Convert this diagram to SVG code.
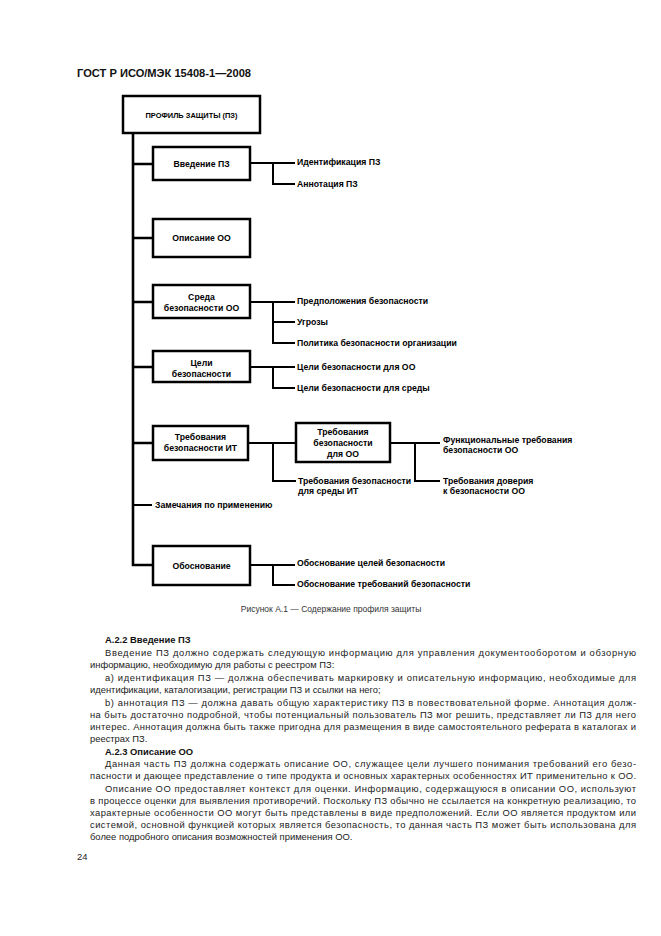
<svg xmlns="http://www.w3.org/2000/svg" width="661" height="936" viewBox="0 0 661 936">
<style>
.bg{fill:#fff}
.box{fill:#fff;stroke:#000;stroke-width:2.5}
.n{font-family:"Liberation Sans",Arial,sans-serif;font-size:8.7px;font-weight:bold;fill:#000}
.r{font-size:8px}
.c{text-anchor:middle}
.ln{fill:none;stroke:#000;stroke-width:2}
.tr{fill:none;stroke:#000;stroke-width:2.6}
.hd{font-family:"Liberation Sans",Arial,sans-serif;font-size:11px;font-weight:bold;fill:#111}
.cap{font-family:"Liberation Sans",Arial,sans-serif;font-size:8.5px;fill:#333;text-anchor:middle}
.t{font-family:"Liberation Sans",Arial,sans-serif;font-size:9.4px;fill:#222}
.tb{font-family:"Liberation Sans",Arial,sans-serif;font-size:9.4px;font-weight:bold;fill:#111}
</style>
<rect class="bg" width="661" height="936"/>
<text class="hd" x="77" y="77" textLength="174" lengthAdjust="spacingAndGlyphs">ГОСТ Р ИСО/МЭК 15408-1—2008</text>

<g id="connectors">
<path class="tr" d="M133,133 V565 H153"/>
<path class="tr" d="M133,164 H153 M133,238 H153 M133,302 H153 M133,367 H153 M133,443 H153"/>
<path class="ln" d="M133,505 H152"/>
<path class="ln" d="M250,163 H295 M273,163 V184 H295"/>
<path class="ln" d="M250,302 H295 M273,302 V343 H295 M273,322 H295"/>
<path class="ln" d="M250,367 H295 M273,367 V388 H295"/>
<path class="ln" d="M248,443 H296 M273,443 V481 H296"/>
<path class="ln" d="M390,443 H440 M415,443 V481 H440"/>
<path class="ln" d="M250,565 H295 M273,565 V585 H295"/>
</g>

<g id="root">
<rect class="box" x="123" y="96" width="137" height="37"/>
<text class="n r c" x="191.5" y="118" textLength="92" lengthAdjust="spacingAndGlyphs">ПРОФИЛЬ ЗАЩИТЫ (ПЗ)</text>
</g>

<g id="intro">
<rect class="box" x="153" y="147" width="97" height="33"/>
<text class="n c" x="201.5" y="167">Введение ПЗ</text>
</g>
<g id="intro-id"><text class="n" x="297" y="165">Идентификация ПЗ</text></g>
<g id="intro-ann"><text class="n" x="297" y="187">Аннотация ПЗ</text></g>

<g id="toe-desc">
<rect class="box" x="153" y="219" width="97" height="38"/>
<text class="n c" x="201.5" y="241">Описание ОО</text>
</g>

<g id="env">
<rect class="box" x="153" y="285" width="97" height="33"/>
<text class="n c" x="201.5" y="300">Среда</text>
<text class="n c" x="201.5" y="311">безопасности ОО</text>
</g>
<g id="env-ass"><text class="n" x="297" y="304">Предположения безопасности</text></g>
<g id="env-thr"><text class="n" x="297" y="325">Угрозы</text></g>
<g id="env-pol"><text class="n" x="297" y="346">Политика безопасности организации</text></g>

<g id="obj">
<rect class="box" x="153" y="351" width="97" height="31"/>
<text class="n c" x="201.5" y="366">Цели</text>
<text class="n c" x="201.5" y="377">безопасности</text>
</g>
<g id="obj-toe"><text class="n" x="297" y="370">Цели безопасности для ОО</text></g>
<g id="obj-env"><text class="n" x="297" y="391">Цели безопасности для среды</text></g>

<g id="itreq">
<rect class="box" x="153" y="426" width="95" height="34"/>
<text class="n c" x="200.5" y="440">Требования</text>
<text class="n c" x="200.5" y="451">безопасности ИТ</text>
</g>
<g id="toereq">
<rect class="box" x="296" y="423" width="94" height="39"/>
<text class="n c" x="343" y="435">Требования</text>
<text class="n c" x="343" y="446">безопасности</text>
<text class="n c" x="343" y="457">для ОО</text>
</g>
<g id="envreq">
<text class="n" x="298" y="484">Требования безопасности</text>
<text class="n" x="298" y="494">для среды ИТ</text>
</g>
<g id="funcreq">
<text class="n" x="443" y="443">Функциональные требования</text>
<text class="n" x="443" y="453">безопасности ОО</text>
</g>
<g id="assreq">
<text class="n" x="443" y="484">Требования доверия</text>
<text class="n" x="443" y="494">к безопасности ОО</text>
</g>

<g id="notes"><text class="n" x="155" y="508">Замечания по применению</text></g>

<g id="rationale">
<rect class="box" x="153" y="546" width="97" height="39"/>
<text class="n c" x="201.5" y="569">Обоснование</text>
</g>
<g id="rat-obj"><text class="n" x="297" y="566">Обоснование целей безопасности</text></g>
<g id="rat-req"><text class="n" x="297" y="587">Обоснование требований безопасности</text></g>

<text class="cap" x="331" y="612">Рисунок А.1 — Содержание профиля защиты</text>

<g id="body">
<text class="tb" x="105" y="643">A.2.2  Введение ПЗ</text>
<text class="t" x="105" y="656" textLength="531" lengthAdjust="spacing">Введение ПЗ должно содержать следующую информацию для управления документооборотом и обзорную</text>
<text class="t" x="90" y="668">информацию, необходимую для работы с реестром ПЗ:</text>
<text class="t" x="105" y="681" textLength="531" lengthAdjust="spacing">a)  идентификация ПЗ — должна обеспечивать маркировку и описательную информацию, необходимые для</text>
<text class="t" x="90" y="693">идентификации, каталогизации, регистрации ПЗ и ссылки на него;</text>
<text class="t" x="105" y="706" textLength="531" lengthAdjust="spacing">b)  аннотация ПЗ — должна давать общую характеристику ПЗ в повествовательной форме. Аннотация долж-</text>
<text class="t" x="90" y="718" textLength="546" lengthAdjust="spacing">на быть достаточно подробной, чтобы потенциальный пользователь ПЗ мог решить, представляет ли ПЗ для него</text>
<text class="t" x="90" y="730" textLength="546" lengthAdjust="spacing">интерес. Аннотация должна быть также пригодна для размещения в виде самостоятельного реферата в каталогах и</text>
<text class="t" x="90" y="742">реестрах ПЗ.</text>
<text class="tb" x="105" y="755">A.2.3  Описание ОО</text>
<text class="t" x="105" y="767" textLength="531" lengthAdjust="spacing">Данная часть ПЗ должна содержать описание ОО, служащее цели лучшего понимания требований его безо-</text>
<text class="t" x="90" y="779" textLength="546" lengthAdjust="spacing">пасности и дающее представление о типе продукта и основных характерных особенностях ИТ применительно к ОО.</text>
<text class="t" x="105" y="792" textLength="531" lengthAdjust="spacing">Описание ОО предоставляет контекст для оценки. Информацию, содержащуюся в описании ОО, используют</text>
<text class="t" x="90" y="804" textLength="546" lengthAdjust="spacing">в процессе оценки для выявления противоречий. Поскольку ПЗ обычно не ссылается на конкретную реализацию, то</text>
<text class="t" x="90" y="816" textLength="546" lengthAdjust="spacing">характерные особенности ОО могут быть представлены в виде предположений. Если ОО является продуктом или</text>
<text class="t" x="90" y="828" textLength="546" lengthAdjust="spacing">системой, основной функцией которых является безопасность, то данная часть ПЗ может быть использована для</text>
<text class="t" x="90" y="840">более подробного описания возможностей применения ОО.</text>
<text class="t" x="77" y="860">24</text>
</g>
</svg>
